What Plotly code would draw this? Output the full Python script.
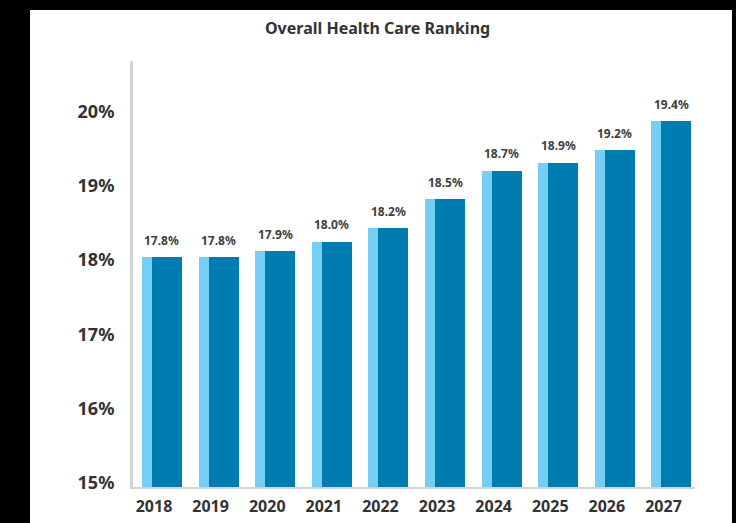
import plotly.graph_objects as go

years = ["2018", "2019", "2020", "2021", "2022", "2023", "2024", "2025", "2026", "2027"]
bar_values = [18.04, 18.04, 18.12, 18.25, 18.43, 18.82, 19.20, 19.31, 19.48, 19.87]
bar_labels = ["17.8%", "17.8%", "17.9%", "18.0%", "18.2%", "18.5%", "18.7%", "18.9%", "19.2%", "19.4%"]
y_tick_values = [15, 16, 17, 18, 19, 20]
y_tick_labels = ["15%", "16%", "17%", "18%", "19%", "20%"]

LIGHT = "#75CEF4"
DARK = "#007DB0"
TEXT = "#333333"
FONT = "Noto Sans"

fig = go.Figure()
fig.add_trace(go.Bar(x=years, y=bar_values, marker=dict(color=LIGHT, line=dict(width=0)),
                     offset=-0.212, width=0.707, hoverinfo="skip", showlegend=False))
fig.add_trace(go.Bar(x=years, y=bar_values, marker=dict(color=DARK, line=dict(width=0)),
                     offset=-0.035, width=0.530, hoverinfo="skip", showlegend=False))

annotations = []
for i, (v, lab) in enumerate(zip(bar_values, bar_labels)):
    annotations.append(dict(x=i + 0.141, y=v, xref="x", yref="y", text=lab, showarrow=False,
                            yshift=17, yanchor="middle", xanchor="center",
                            font=dict(family=FONT, size=12, color="#404040")))

fig.add_shape(type="rect", xref="paper", yref="paper", x0=-0.1833, x1=1.0658, y0=-0.2, y1=1.1197,
              fillcolor="white", line=dict(width=0), layer="below")

fig.update_layout(
    width=736, height=523,
    margin=dict(l=133, r=41, t=61, b=36, autoexpand=False),
    paper_bgcolor="black",
    plot_bgcolor="white",
    barmode="overlay",
    bargap=0,
    annotations=annotations,
    title=dict(text="<b>Overall Health Care Ranking</b>", xref="container", yref="container",
               x=0.513, y=1 - 28.5 / 523, xanchor="center", yanchor="middle",
               font=dict(family=FONT, size=16, color=TEXT)),
    xaxis=dict(type="category", range=[-0.371, 9.557], showgrid=False, zeroline=False,
               showline=True, linecolor="#D3D3D3", linewidth=2, ticks="",
               ticklabelstandoff=4, automargin=False,
               tickfont=dict(family=FONT, size=16, color=TEXT, weight="bold")),
    yaxis=dict(range=[14.946, 20.68], tickvals=y_tick_values, ticktext=y_tick_labels,
               showgrid=False, zeroline=False, showline=True, linecolor="#D3D3D3", linewidth=3,
               ticks="", ticklabelstandoff=12, automargin=False,
               tickfont=dict(family=FONT, size=18, color=TEXT, weight="bold")),
)
for a in fig.layout.annotations:
    a.text = "<b>" + a.text + "</b>"

fig.write_html("out.html")
